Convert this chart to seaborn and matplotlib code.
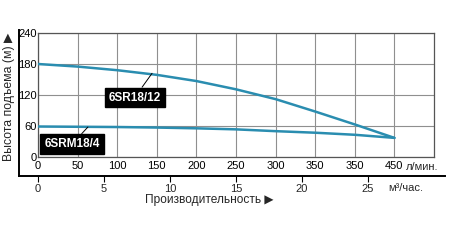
import matplotlib
matplotlib.use("Agg")
import matplotlib.pyplot as plt
import seaborn as sns
import pandas as pd

# ---- data ----
flow_lpm = [0, 50, 100, 150, 200, 250, 300, 350, 400, 450]
head_sr12 = [180, 175, 168, 159, 147, 131, 112, 88, 63, 37]
head_srm4 = [59, 58.5, 58, 57, 55.5, 53.5, 50, 47, 43, 37]
x_ticks = [0, 50, 100, 150, 200, 250, 300, 350, 400, 450]
x_tick_labels = ["0", "50", "100", "150", "200", "250", "300", "350", "350", "450"]
y_ticks = [0, 60, 120, 180, 240]
m3h_ticks = [0, 5, 10, 15, 20, 25]
series_names = ["6SR18/12", "6SRM18/4"]
x_unit = "л/мин."
m3h_unit = "м³/час."
x_title = "Производительность ▶"
y_title = "Высота подъема (м) ▶"   # rotated 90°, the arrow points up

sns.set_theme(style="white")
plt.rcParams["font.family"] = ["Liberation Sans", "DejaVu Sans"]

W, H = 450, 242
fig = plt.figure(figsize=(W / 100, H / 100), dpi=100)

def fx(px):
    return px / W

def fy(py):
    return 1 - py / H

TICK_FS = 8

# outer L-frame with secondary (m3/h) axis
ax2 = fig.add_axes([fx(19), fy(176), fx(445 - 19), fy(30) - fy(176)])
ax2.patch.set_alpha(0)
for s in ["top", "right"]:
    ax2.spines[s].set_visible(False)
for s in ["left", "bottom"]:
    ax2.spines[s].set_color("black")
    ax2.spines[s].set_linewidth(1.4)
px_per_lpm = (434 - 38) / 500
px_per_m3h = px_per_lpm * 1000 / 60
ax2.set_xlim((19 - 38) / px_per_m3h, (445 - 38) / px_per_m3h)
ax2.set_ylim(0, 1)
ax2.set_yticks([])
ax2.set_xticks(m3h_ticks)
ax2.set_xticklabels([str(t) for t in m3h_ticks])
ax2.tick_params(axis="x", direction="out", length=4, width=0.8, color="black",
                pad=2, labelsize=TICK_FS, bottom=True)
ax2.text((388 - 38) / px_per_m3h, -0.085, m3h_unit, transform=ax2.get_xaxis_transform(),
         ha="left", va="center", fontsize=TICK_FS)

# main axes
ax = fig.add_axes([fx(38), fy(157), fx(434 - 38), fy(33) - fy(157)])
ax.patch.set_alpha(0)
df = pd.DataFrame({
    "flow": flow_lpm * 2,
    "head": head_sr12 + head_srm4,
    "model": [series_names[0]] * len(flow_lpm) + [series_names[1]] * len(flow_lpm),
})
sns.lineplot(data=df, x="flow", y="head", hue="model",
             palette=["#2a8db0", "#2a8db0"], linewidth=1.8, legend=False, ax=ax, zorder=3)
ax.set_xlim(0, 500)
ax.set_ylim(0, 240)
ax.set_xticks(x_ticks)
ax.set_xticklabels(x_tick_labels)
ax.set_yticks(y_ticks)
ax.set_yticklabels([str(t) for t in y_ticks])
ax.grid(True, color="#8f8f8f", linewidth=0.8)
for s in ax.spines.values():
    s.set_color("#555555")
    s.set_linewidth(0.9)
ax.tick_params(axis="both", length=0, labelsize=TICK_FS, colors="black")
ax.tick_params(axis="x", pad=3)
ax.tick_params(axis="y", pad=1)
ax.set_xlabel("")
ax.set_ylabel("")
ax.text(464, -0.08, x_unit, transform=ax.get_xaxis_transform(), ha="left", va="center",
        fontsize=TICK_FS)

# labels with leader lines
ax.annotate(series_names[0], xy=(144, 162), xytext=(122, 115),
            ha="center", va="center", fontsize=8.5, fontweight="bold", color="white",
            bbox=dict(boxstyle="square,pad=0.33", fc="black", ec="black"),
            arrowprops=dict(arrowstyle="-", color="black", lw=0.7, shrinkA=0, shrinkB=0),
            zorder=5)
ax.annotate(series_names[1], xy=(63, 58), xytext=(43, 25),
            ha="center", va="center", fontsize=8.5, fontweight="bold", color="white",
            bbox=dict(boxstyle="square,pad=0.33", fc="black", ec="black"),
            arrowprops=dict(arrowstyle="-", color="black", lw=0.7, shrinkA=0, shrinkB=0),
            zorder=5)

fig.text(fx(209), fy(200), x_title, ha="center", va="center", fontsize=8.6)
fig.text(fx(9), fy(97), y_title, ha="center", va="center", rotation=90, fontsize=8.8)

fig.savefig("out.png", dpi=100)
